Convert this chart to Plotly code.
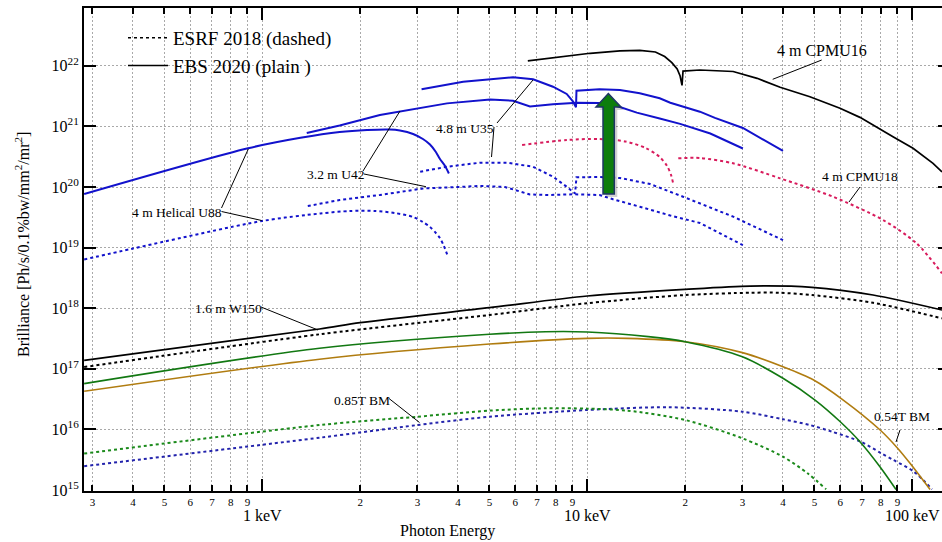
import math
import plotly.graph_objects as go

# ---------------- data (energy in keV, brilliance in Ph/s/0.1%bw/mm2/mr2) ----------------
u88_ebs_e = [0.283, 0.904, 1.31, 1.73, 2.10, 2.47, 2.65, 2.91, 3.12, 3.28, 3.42, 3.52, 3.65, 3.75]
u88_ebs_b = [7.66e19, 4.36e20, 6.49e20, 8.09e20, 8.73e20, 8.89e20, 8.55e20, 7.50e20, 6.19e20, 5.02e20,
             3.78e20, 2.90e20, 2.22e20, 1.67e20]

u88_esrf_e = [0.283, 0.400, 0.998, 1.51, 1.86, 2.22, 2.56, 2.91, 3.12, 3.28, 3.42, 3.52, 3.62, 3.73]
u88_esrf_b = [6.37e18, 9.66e18, 2.75e19, 3.66e19, 4.02e19, 4.02e19, 3.72e19, 3.20e19, 2.64e19, 2.19e19,
              1.74e19, 1.44e19, 1.06e19, 7.00e18]

u42_ebs_e = [1.37, 1.73, 2.30, 2.65, 3.70, 5.02, 5.91, 6.66, 7.84, 9.30, 10.9, 12.2, 14.2, 16.7, 19.3, 23.9, 30.1]
u42_ebs_b = [7.78e20, 1.035e21, 1.54e21, 1.75e21, 2.40e21, 2.78e21, 2.65e21, 2.13e21, 2.32e21, 2.46e21,
             2.43e21, 2.21e21, 1.69e21, 1.35e21, 1.10e21, 7.64e20, 4.32e20]

u42_esrf_e = [1.38, 1.73, 2.30, 3.12, 4.68, 5.58, 6.21, 6.66, 7.68, 9.04, 10.9, 12.0, 14.5, 18.0, 22.2, 30.1]
u42_esrf_b = [4.85e19, 6.10e19, 7.38e19, 9.44e19, 1.04e20, 1.00e20, 8.43e19, 7.52e19, 7.38e19, 7.59e19,
              7.38e19, 6.27e19, 4.73e19, 3.39e19, 2.55e19, 1.10e19]

u35_ebs_e = [3.09, 4.15, 5.91, 6.81, 7.84, 8.64, 9.04, 9.23, 9.26, 10.9, 12.6, 14.5, 16.7, 18.0, 22.2, 24.7,
             30.1, 40.0]
u35_ebs_b = [4.09e21, 5.47e21, 6.46e21, 5.98e21, 4.52e21, 3.43e21, 2.56e21, 2.07e21, 3.88e21, 4.09e21,
             3.99e21, 3.52e21, 2.91e21, 2.46e21, 1.75e21, 1.38e21, 9.42e20, 3.93e20]

u35_esrf_e = [3.06, 3.70, 4.68, 5.66, 6.81, 7.84, 8.64, 9.17, 9.26, 10.9, 12.6, 15.6, 19.7, 28.1, 40.0]
u35_esrf_b = [1.79e20, 2.16e20, 2.52e20, 2.52e20, 2.16e20, 1.48e20, 1.01e20, 7.81e19, 1.45e20, 1.46e20,
              1.41e20, 1.12e20, 6.92e19, 3.24e19, 1.33e19]

cpmu16_e = [6.56, 8.25, 10.2, 12.6, 14.5, 16.2, 17.3, 18.2, 18.9, 19.3, 19.56, 19.7, 22.2, 28.1, 33.3, 39.2,
            48.4, 59.9, 69.0, 87.2, 100.5, 115.8, 123.4]
cpmu16_b = [1.21e22, 1.42e22, 1.61e22, 1.77e22, 1.80e22, 1.69e22, 1.42e22, 1.13e22, 8.85e21, 6.79e21,
            4.76e21, 8.20e21, 8.53e21, 8.05e21, 6.22e21, 4.42e21, 3.09e21, 1.99e21, 1.41e21, 6.76e20,
            4.36e20, 2.46e20, 1.77e20]

cpmu18a_e = [6.30, 8.66, 10.9, 13.1, 15.1, 16.7, 17.6, 18.1, 18.35]
cpmu18a_b = [4.93e20, 5.97e20, 6.19e20, 5.64e20, 4.41e20, 3.13e20, 2.22e20, 1.58e20, 1.18e20]
cpmu18b_e = [19.05, 22.2, 28.1, 39.2, 57.0, 81.3, 103.0, 123.4]
cpmu18b_b = [2.98e20, 3.01e20, 2.46e20, 1.39e20, 6.92e19, 2.85e19, 1.18e19, 3.77e18]

w150_ebs_e = [0.283, 1.5, 2.0, 5.0, 10.0, 20.0, 31.7, 49.1, 75.7, 123.4]
w150_ebs_b = [1.38e17, 4.54e17, 5.77e17, 1.02e18, 1.59e18, 2.05e18, 2.32e18, 2.21e18, 1.65e18, 9.33e17]

w150_esrf_e = [0.283, 1.5, 5.0, 10.0, 20.0, 31.7, 38.9, 49.1, 75.7, 123.4]
w150_esrf_b = [1.07e17, 3.71e17, 7.73e17, 1.21e18, 1.65e18, 1.80e18, 1.80e18, 1.65e18, 1.23e18, 6.81e17]

green_ebs_e = [0.283, 1.5, 5.0, 7.44, 10.0, 15.4, 20.0, 30.0, 40.0, 50.2, 59.9, 69.0, 79.6, 89.1]
green_ebs_b = [5.70e16, 2.18e17, 3.71e17, 4.09e17, 4.05e17, 3.39e17, 2.80e17, 1.58e17, 6.97e16, 3.05e16,
               1.35e16, 6.27e15, 2.40e15, 1.02e15]

bm054_e = [0.283, 1.5, 5.0, 10.0, 13.3, 20.0, 30.0, 40.0, 49.7, 61.3, 79.6, 90.1, 98.4, 113.4]
bm054_b = [4.25e16, 1.44e17, 2.56e17, 3.18e17, 3.18e17, 2.80e17, 1.85e17, 1.08e17, 6.53e16, 3.05e16,
           9.77e15, 4.9e15, 2.76e15, 1.02e15]

bm085_green_e = [0.283, 1.5, 3.0, 5.0, 7.44, 10.0, 13.3, 20.0, 30.0, 40.0, 47.6, 54.3]
bm085_green_b = [4.00e15, 1.18e16, 1.62e16, 2.04e16, 2.23e16, 2.20e16, 2.04e16, 1.43e16, 7.13e15, 3.54e15,
                 1.89e15, 1.03e15]

bm085_blue_e = [0.283, 1.5, 3.0, 5.0, 10.0, 17.8, 30.0, 40.0, 48.4, 56.6, 69.4, 80.2, 87.4, 101.2, 115.0]
bm085_blue_b = [2.47e15, 7.29e15, 1.18e16, 1.62e16, 2.09e16, 2.32e16, 1.96e16, 1.47e16, 1.18e16, 9.16e15,
                6.27e15, 4.04e15, 3.13e15, 2.00e15, 1.03e15]

x_minor_vals = [0.3, 0.4, 0.5, 0.6, 0.7, 0.8, 0.9, 2, 3, 4, 5, 6, 7, 8, 9, 20, 30, 40, 50, 60, 70, 80, 90]
x_minor_text = ["3", "4", "5", "6", "7", "8", "9", "2", "3", "4", "5", "6", "7", "8", "9",
                "2", "3", "4", "5", "6", "7", "8", "9"]
x_major_vals = [1, 10, 100]
x_major_text = ["1 keV", "10 keV", "100 keV"]
y_tick_vals = [1e15, 1e16, 1e17, 1e18, 1e19, 1e20, 1e21, 1e22]
y_tick_text = ["10<sup>15</sup>", "10<sup>16</sup>", "10<sup>17</sup>", "10<sup>18</sup>",
               "10<sup>19</sup>", "10<sup>20</sup>", "10<sup>21</sup>", "10<sup>22</sup>"]

# ---------------- geometry helpers (layout only) ----------------
W, H = 942, 542
ML, MR, MT, MB = 84, 0, 8, 51
PW, PH = W - ML - MR, H - MT - MB
FONT = "Liberation Serif"


def px(x):
    return (x - ML) / PW


def py(y):
    return (H - MB - y) / PH


BLUE = "#1212cc"
BLUE_BM = "#2323ac"
PINK = "#d81b5c"
GREEN = "#127812"
GREEN_D = "#1b8a1b"
BROWN = "#b07c10"
DOT = "3px,3px"

fig = go.Figure()


def add(xs, ys, color, width, dash="solid", smooth=False):
    line = dict(color=color, width=width, dash=dash)
    if smooth:
        line.update(shape="spline", smoothing=0.8)
    fig.add_trace(go.Scatter(x=xs, y=ys, mode="lines", showlegend=False, hoverinfo="skip", line=line))


# legend entries
fig.add_trace(go.Scatter(x=[None], y=[None], mode="lines", name="ESRF 2018 (dashed)",
                         line=dict(color="black", width=1.5, dash=DOT)))
fig.add_trace(go.Scatter(x=[None], y=[None], mode="lines", name="EBS 2020 (plain )",
                         line=dict(color="black", width=1.5)))

add(bm085_blue_e, bm085_blue_b, BLUE_BM, 2, DOT, True)
add(bm085_green_e, bm085_green_b, GREEN_D, 2, DOT, True)
add(bm054_e, bm054_b, BROWN, 1.6, smooth=True)
add(green_ebs_e, green_ebs_b, GREEN, 1.6, smooth=True)
add(w150_esrf_e, w150_esrf_b, "black", 2, DOT, True)
add(w150_ebs_e, w150_ebs_b, "black", 1.7, smooth=True)
add(cpmu18a_e, cpmu18a_b, PINK, 2, DOT, True)
add(cpmu18b_e, cpmu18b_b, PINK, 2, DOT, True)
add(u88_esrf_e, u88_esrf_b, BLUE, 2, DOT, True)
add(u42_esrf_e, u42_esrf_b, BLUE, 2, DOT)
add(u35_esrf_e, u35_esrf_b, BLUE, 2, DOT)
add(u88_ebs_e, u88_ebs_b, BLUE, 2, smooth=True)
add(u42_ebs_e, u42_ebs_b, BLUE, 2)
add(u35_ebs_e, u35_ebs_b, BLUE, 2)
add(cpmu16_e, cpmu16_b, "black", 1.7)

# dummy trace to instantiate overlay axes (major x ticks, right y ticks)
fig.add_trace(go.Scatter(x=[None], y=[None], xaxis="x2", yaxis="y2", showlegend=False, hoverinfo="skip"))

xr = [math.log10(0.2827), math.log10(123.4)]
yr = [14.9835, 22.954]
GRID = "#a9a9a9"

fig.update_layout(
    template="none",
    width=W, height=H, autosize=False,
    margin=dict(l=ML, r=MR, t=MT, b=MB, pad=0),
    paper_bgcolor="white", plot_bgcolor="white",
    font=dict(family=FONT, color="black"),
    showlegend=True,
    legend=dict(x=px(123), y=py(19), xanchor="left", yanchor="top", bgcolor="rgba(0,0,0,0)",
                font=dict(family=FONT, size=19, color="black"), itemwidth=40, tracegroupgap=0),
    xaxis=dict(type="log", range=xr, tickmode="array", tickvals=x_minor_vals + x_major_vals,
               ticktext=x_minor_text + ["", "", ""], ticks="inside", ticklen=6, tickwidth=1.5,
               tickcolor="black", showline=True, linecolor="black", linewidth=2, mirror="ticks",
               showgrid=True, gridcolor=GRID, griddash="2px,2px", gridwidth=1, zeroline=False,
               tickfont=dict(family=FONT, size=11, color="black")),
    xaxis2=dict(type="log", range=xr, overlaying="x", anchor="y", side="bottom", tickmode="array",
                tickvals=x_major_vals, ticktext=x_major_text, ticks="inside", ticklen=12, tickwidth=1.5,
                tickcolor="black", showline=False, mirror="ticks", showgrid=False, zeroline=False,
                ticklabelstandoff=13, tickfont=dict(family=FONT, size=16, color="black")),
    yaxis=dict(type="log", range=yr, tickmode="array", tickvals=y_tick_vals, ticktext=y_tick_text,
               ticks="inside", ticklen=12, tickwidth=1.5, tickcolor="black", showline=True,
               linecolor="black", linewidth=2, mirror=False, showgrid=True, gridcolor=GRID,
               griddash="2px,2px", gridwidth=1, zeroline=False,
               tickfont=dict(family=FONT, size=16, color="black")),
    yaxis2=dict(type="log", range=yr, overlaying="y", anchor="x", side="right", tickmode="array",
                tickvals=y_tick_vals, ticks="inside", ticklen=4, tickwidth=1.5, tickcolor="black",
                showticklabels=False, showline=False, showgrid=False, zeroline=False),
)

# ---------------- labels with leader lines ----------------
labels = [
    ("4 m CPMU16", 822, 50, 16),
    ("4 m CPMU18", 860, 176, 13.5),
    ("4.8 m U35", 465, 128, 13.5),
    ("3.2 m U42", 335, 174, 13.5),
    ("4 m Helical U88", 177, 212, 13.5),
    ("1.6 m W150", 228, 308, 13.5),
    ("0.85T BM", 362, 400, 13.5),
    ("0.54T BM", 902, 416, 13.5),
]
for txt, cx, cy, fs in labels:
    fig.add_annotation(text=txt, x=px(cx), y=py(cy), xref="paper", yref="paper", showarrow=False,
                       xanchor="center", yanchor="middle", font=dict(family=FONT, size=fs, color="black"))

leaders = [
    (821.7, 60, 772.7, 79.3),
    (860, 187, 849, 202),
    (497, 123, 533, 80),
    (494, 127, 491.5, 157),
    (363, 171, 400, 111),
    (364, 174, 426, 186.7),
    (221.5, 208, 248.3, 149),
    (221.5, 211.5, 261.7, 220.5),
    (261, 307, 318, 330),
    (389, 398.5, 419.5, 422.5),
    (900, 430, 896, 442),
]
for x0, y0, x1, y1 in leaders:
    fig.add_shape(type="line", xref="paper", yref="paper", x0=px(x0), y0=py(y0), x1=px(x1), y1=py(y1),
                  line=dict(color="black", width=1))

# ---------------- green arrow ----------------
arrow = [(608.3, 93.5), (621, 107), (614.3, 107), (614.3, 194), (603, 194), (603, 107), (596, 107)]


def path_of(pts, dx=0, dy=0):
    return "M " + " L ".join(f"{px(x + dx):.5f},{py(y + dy):.5f}" for x, y in pts) + " Z"


fig.add_shape(type="path", xref="paper", yref="paper", path=path_of(arrow, 3, 3),
              fillcolor="rgba(0,0,0,0.18)", line=dict(width=0))
fig.add_shape(type="path", xref="paper", yref="paper", path=path_of(arrow),
              fillcolor="#0d7d0d", line=dict(color="#1f3566", width=1.5))

# ---------------- axis titles ----------------
fig.add_annotation(text="Brilliance [Ph/s/0.1%bw/mm<sup>2</sup>/mr<sup>2</sup>]", x=px(22), y=py(245),
                   xref="paper", yref="paper", showarrow=False, textangle=-90, xanchor="center",
                   yanchor="middle", font=dict(family=FONT, size=16, color="black"))
fig.add_annotation(text="Photon Energy", x=px(447), y=py(531), xref="paper", yref="paper", showarrow=False,
                   xanchor="center", yanchor="middle", font=dict(family=FONT, size=16, color="black"))

fig.write_html("out.html")
